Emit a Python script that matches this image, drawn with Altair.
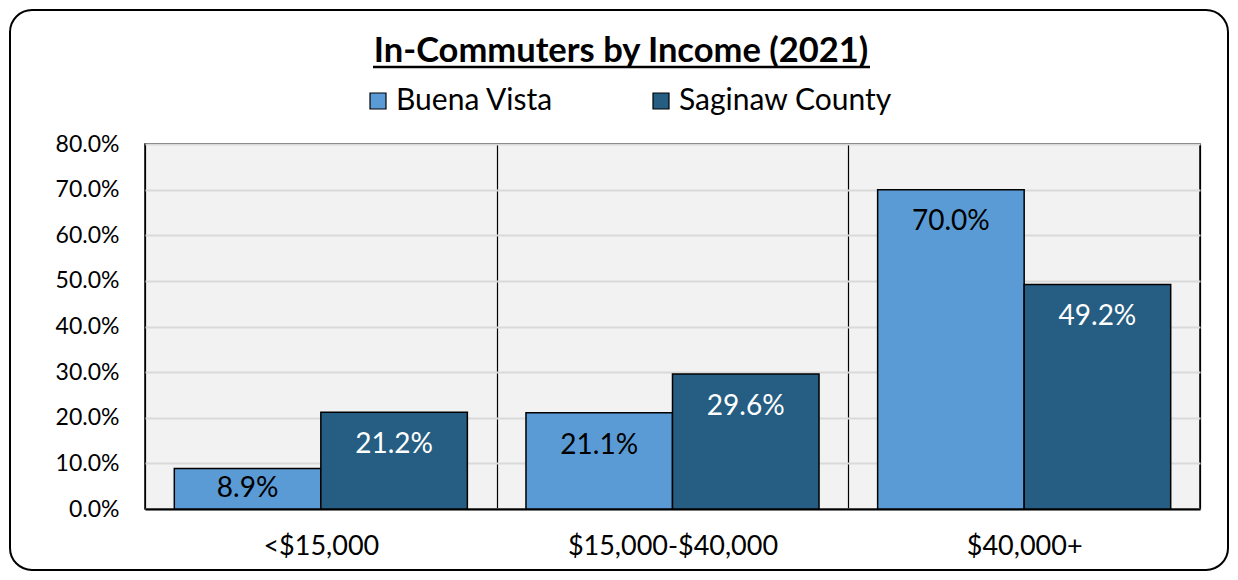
import altair as alt
import pandas as pd

categories = ["<$15,000", "$15,000-$40,000", "$40,000+"]
series_names = ["Buena Vista", "Saginaw County"]
buena_vista = [0.089, 0.211, 0.700]
saginaw_county = [0.212, 0.296, 0.492]
y_ticks = [0.0, 0.1, 0.2, 0.3, 0.4, 0.5, 0.6, 0.7, 0.8]
colors = ["#5B9BD5", "#255E82"]
title_text = "In-Commuters by Income (2021)"

rows = []
for i, c in enumerate(categories):
    rows.append({"category": c, "series": series_names[0], "value": buena_vista[i]})
    rows.append({"category": c, "series": series_names[1], "value": saginaw_county[i]})
df = pd.DataFrame(rows)

FONT = "Lato"
W, H = 1055, 365
PAD = {"left": 137, "top": 136, "right": 30, "bottom": 63}

x_enc = alt.X(
    "category:N",
    sort=categories,
    scale=alt.Scale(paddingInner=0, paddingOuter=0),
    axis=alt.Axis(
        title=None, labelFontSize=27, labelFont=FONT, labelColor="black",
        labelPadding=24, labelAngle=0, labelLimit=400, ticks=False, grid=True,
        gridColor="black", gridWidth=1.2, tickBand="extent", domain=True,
        domainColor="black", domainWidth=2,
    ),
)
xo_enc = alt.XOffset("series:N", sort=series_names,
                     scale=alt.Scale(paddingOuter=0.2, paddingInner=0))
y_enc = alt.Y(
    "value:Q",
    scale=alt.Scale(domain=[0, 0.8], nice=False),
    axis=alt.Axis(
        title=None, values=y_ticks, format=".1%", labelFontSize=23, labelFont=FONT,
        labelColor="black", labelPadding=26, ticks=False, domain=False,
        grid=True, gridColor="#D9D9D9", gridWidth=2,
    ),
)

base = alt.Chart(df)

bars = base.mark_bar(stroke="black", strokeWidth=1.5).encode(
    x=x_enc,
    xOffset=xo_enc,
    y=y_enc,
    color=alt.Color(
        "series:N",
        sort=series_names,
        scale=alt.Scale(domain=series_names, range=colors),
        legend=alt.Legend(
            title=None, orient="none", legendX=218, legendY=-58,
            direction="horizontal", symbolType="square", symbolSize=256,
            symbolStrokeColor="black", symbolStrokeWidth=1.2,
            labelFontSize=30, labelFont=FONT, labelColor="black",
            labelOffset=3, columnPadding=92, labelLimit=400,
        ),
    ),
)

labels = base.transform_calculate(
    label_y="max(datum.value - 0.072, datum.value / 2)"
).mark_text(fontSize=28, font=FONT, baseline="middle", align="center").encode(
    x=alt.X("category:N", sort=categories),
    xOffset=alt.XOffset("series:N", sort=series_names),
    y=alt.Y("label_y:Q"),
    text=alt.Text("value:Q", format=".1%"),
    color=alt.condition(
        alt.datum.series == "Buena Vista", alt.value("black"), alt.value("white")
    ),
)

deco = alt.Data(values=[{"k": 0}])

frame = alt.Chart(deco).mark_rect(
    fillOpacity=0, stroke="black", strokeWidth=2, cornerRadius=22
).encode(
    x=alt.value(-135), x2=alt.value(W + 28), y=alt.value(-134), y2=alt.value(H + 61)
)

title = alt.Chart(deco).mark_text(
    text=title_text, fontSize=34.5, font=FONT, fontWeight="bold",
    align="center", baseline="middle", color="black"
).encode(x=alt.value(476), y=alt.value(-92))

underline = alt.Chart(deco).mark_rule(color="black", strokeWidth=2.5).encode(
    x=alt.value(228), x2=alt.value(725), y=alt.value(-77)
)

chart = alt.layer(frame, bars, labels, title, underline).properties(
    width=W, height=H,
    autosize=alt.AutoSizeParams(type="none"),
    padding=PAD,
    background="white",
).configure_view(fill="#F2F2F2", stroke="black", strokeWidth=1.5)

chart.save("out.html", embed_options={"renderer": "svg", "actions": False})
